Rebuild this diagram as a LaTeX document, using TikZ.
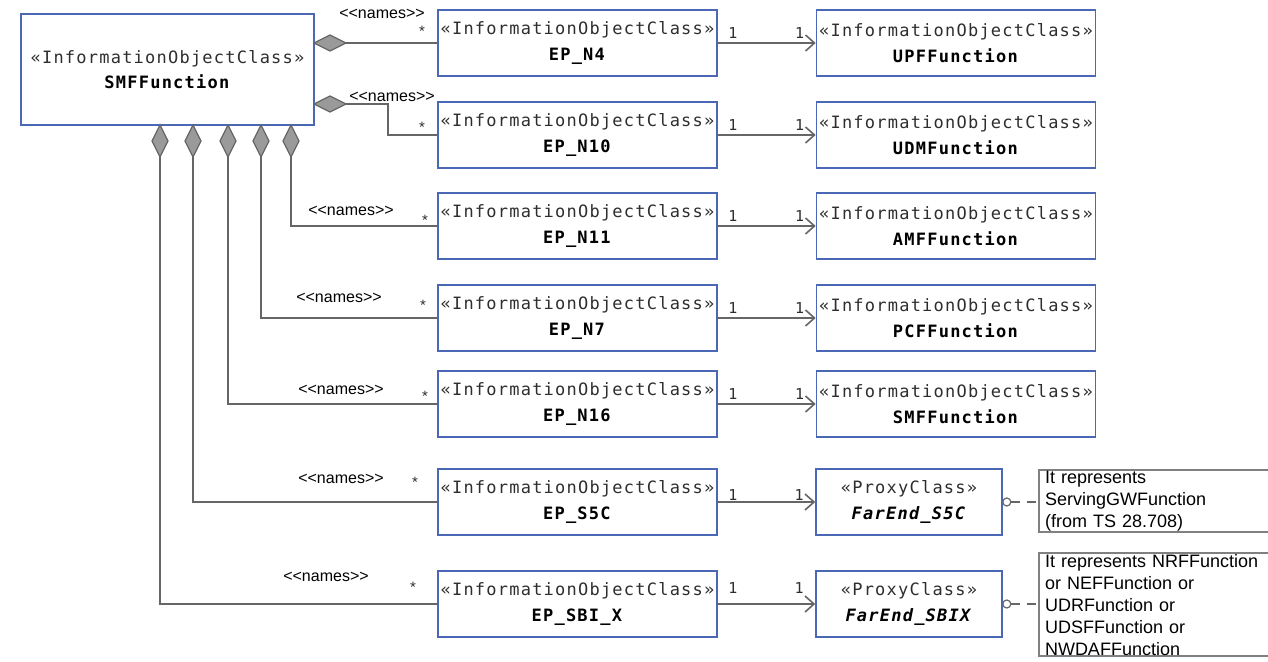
\documentclass[tikz,border=0pt]{standalone}
\usepackage{fontspec}
\usetikzlibrary{arrows.meta,calc}
\newfontfamily\umlmono[LetterSpace=7.2]{DejaVu Sans Mono}
\newfontfamily\umlsans{Liberation Sans}
\definecolor{boxblue}{HTML}{4A68B5}
\definecolor{linegray}{HTML}{666666}
\definecolor{diagray}{HTML}{9A9A9A}
\definecolor{stereocol}{HTML}{2E2E2E}
\newcommand\stereotext[1]{{\color{stereocol}«#1»}}
\tikzset{
  cls/.style={draw=boxblue, line width=1.6pt, fill=white, minimum width=279pt,
    minimum height=66pt, inner sep=0pt, align=center,
    font=\umlmono\fontsize{17}{26}\selectfont},
  farbox/.style={cls, minimum width=186pt},
  notebox/.style={draw=gray, line width=2pt, fill=white, anchor=north west,
    text width=226pt, inner xsep=6pt, inner ysep=1pt, align=left,
    font=\umlsans\fontsize{18}{22}\selectfont},
  conn/.style={draw=linegray, line width=1.8pt},
  assoc/.style={conn, -{Straight Barb[length=9pt,width=16pt,line width=1.6pt]}},
  dia/.style={draw=linegray, fill=diagray, line width=1.2pt},
  mult/.style={font=\umlmono\fontsize{15}{16}\selectfont, inner sep=0pt, text=stereocol},
  starlbl/.style={font=\umlsans\fontsize{15}{16}\selectfont, inner sep=0pt, text=stereocol},
  nameslbl/.style={font=\umlsans\fontsize{16}{18}\selectfont, inner sep=0pt},
  vdia/.pic={\draw[dia] (0,0) -- (8,16) -- (0,32) -- (-8,16) -- cycle;},
  hdia/.pic={\draw[dia] (0,0) -- (16,-8) -- (32,0) -- (16,8) -- cycle;},
  notelink/.style={draw=linegray, line width=1.2pt, dash pattern=on 9pt off 7pt}
}
\begin{document}
\begin{tikzpicture}[x=1pt,y=-1pt]
\clip (0,0) rectangle (1268,661);
\fill[white] (0,0) rectangle (1268,661);

% main class
\node[cls, minimum width=293pt, minimum height=111pt, font=\umlmono\fontsize{17}{25}\selectfont]
  (smf) at (167.5,69.5) {\stereotext{InformationObjectClass}\\\textbf{SMFFunction}};

% EP classes
\node[cls] (ep4)  at (577.5,43)  {\stereotext{InformationObjectClass}\\\textbf{EP\_N4}};
\node[cls] (ep10) at (577.5,135) {\stereotext{InformationObjectClass}\\\textbf{EP\_N10}};
\node[cls] (ep11) at (577.5,226) {\stereotext{InformationObjectClass}\\\textbf{EP\_N11}};
\node[cls] (ep7)  at (577.5,318) {\stereotext{InformationObjectClass}\\\textbf{EP\_N7}};
\node[cls] (ep16) at (577.5,404) {\stereotext{InformationObjectClass}\\\textbf{EP\_N16}};
\node[cls] (eps5c) at (577.5,502) {\stereotext{InformationObjectClass}\\\textbf{EP\_S5C}};
\node[cls] (epsbi) at (577.5,604) {\stereotext{InformationObjectClass}\\\textbf{EP\_SBI\_X}};

% target classes
\node[cls] (upf) at (956,43)  {\stereotext{InformationObjectClass}\\\textbf{UPFFunction}};
\node[cls] (udm) at (956,135) {\stereotext{InformationObjectClass}\\\textbf{UDMFunction}};
\node[cls] (amf) at (956,226) {\stereotext{InformationObjectClass}\\\textbf{AMFFunction}};
\node[cls] (pcf) at (956,318) {\stereotext{InformationObjectClass}\\\textbf{PCFFunction}};
\node[cls] (smf2) at (956,404) {\stereotext{InformationObjectClass}\\\textbf{SMFFunction}};
\node[farbox] (far5) at (909,502) {\stereotext{ProxyClass}\\\textbf{\itshape FarEnd\_S5C}};
\node[farbox] (farx) at (909,604) {\stereotext{ProxyClass}\\\textbf{\itshape FarEnd\_SBIX}};

% notes
\node[notebox] (note1) at (1038,469) {It represents\\ServingGWFunction\\(from TS 28.708)};
\node[notebox] (note2) at (1038,552) {It represents NRFFunction\\or NEFFunction or\\UDRFunction or\\UDSFFunction or\\NWDAFFunction};

% composition connectors
\coordinate (h1) at (314,43);
\coordinate (h2) at (314,104);
\coordinate (v3) at (291,125);
\coordinate (v4) at (261,125);
\coordinate (v5) at (228,125);
\coordinate (v6) at (193,125);
\coordinate (v7) at (160,125);
\draw[conn] ($(h1)+(32,0)$) -- (ep4.west);
\draw[conn] ($(h2)+(32,0)$) -- ($(h2)+(74,0)$) |- (ep10.west);
\draw[conn] ($(v3)+(0,32)$) |- (ep11.west);
\draw[conn] ($(v4)+(0,32)$) |- (ep7.west);
\draw[conn] ($(v5)+(0,32)$) |- (ep16.west);
\draw[conn] ($(v6)+(0,32)$) |- (eps5c.west);
\draw[conn] ($(v7)+(0,32)$) |- (epsbi.west);
\pic at (h1) {hdia};
\pic at (h2) {hdia};
\foreach \c in {v3,v4,v5,v6,v7} {\pic at (\c) {vdia};}

% <<names>> labels
\node[nameslbl] at (382,14)  {<<names>>};
\node[nameslbl] at (392,97)  {<<names>>};
\node[nameslbl] at (351,211) {<<names>>};
\node[nameslbl] at (339,298) {<<names>>};
\node[nameslbl] at (341,390) {<<names>>};
\node[nameslbl] at (341,479) {<<names>>};
\node[nameslbl] at (326,577) {<<names>>};
% multiplicity *
\node[starlbl] at (422,31)  {*};
\node[starlbl] at (422,127) {*};
\node[starlbl] at (425,220) {*};
\node[starlbl] at (423,305) {*};
\node[starlbl] at (425,396) {*};
\node[starlbl] at (415,482) {*};
\node[starlbl] at (413,587) {*};

% associations
\draw[assoc] (ep4.east) -- (upf.west);
\draw[assoc] (ep10.east) -- (udm.west);
\draw[assoc] (ep11.east) -- (amf.west);
\draw[assoc] (ep7.east) -- (pcf.west);
\draw[assoc] (ep16.east) -- (smf2.west);
\draw[assoc] (eps5c.east) -- (far5.west);
\draw[assoc] (epsbi.east) -- (farx.west);
\foreach \a/\b/\dy in {ep4/upf/-10, ep10/udm/-10, ep11/amf/-10, ep7/pcf/-10, ep16/smf2/-10, eps5c/far5/-7, epsbi/farx/-16} {
  \node[mult] at ($(\a.east)+(15,\dy)$) {1};
  \node[mult] at ($(\b.west)+(-16,\dy)$) {1};
}

% note links
\draw[linegray, line width=1.2pt, fill=white] ($(far5.east)+(4,0)$) circle (4);
\draw[notelink] ($(far5.east)+(8,0)$) -- (note1.west |- far5.east);
\draw[linegray, line width=1.2pt, fill=white] ($(farx.east)+(4,0)$) circle (4);
\draw[notelink] ($(farx.east)+(8,0)$) -- (note2.west |- farx.east);
\end{tikzpicture}
\end{document}
